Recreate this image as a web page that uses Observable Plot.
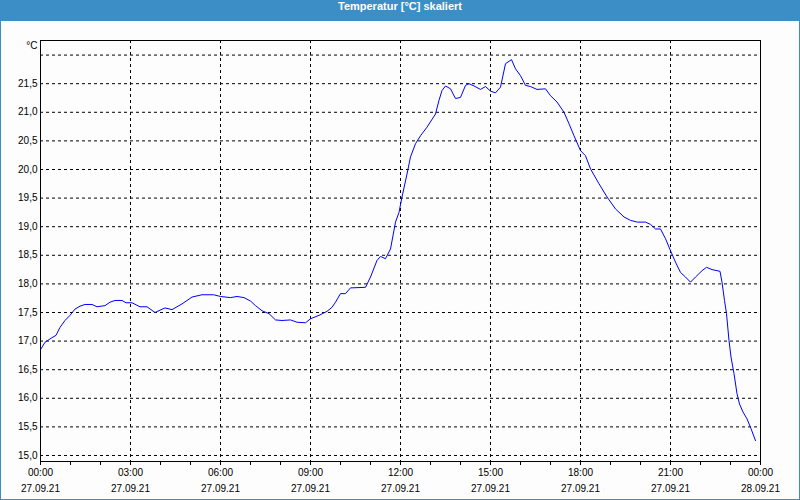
<!DOCTYPE html>
<html>
<head>
<meta charset="utf-8">
<script src="https://cdn.jsdelivr.net/npm/d3@7"></script>
<script src="https://cdn.jsdelivr.net/npm/@observablehq/plot@0.6"></script>
<style>
  html, body { margin: 0; padding: 0; background: #ffffff; }
  #wrap { position: relative; width: 800px; height: 500px; background: #fcfdfc; overflow: hidden; }
  #title { height: 21px; line-height: 20px; background: #3b8fc6; color: #ffffff; text-align: center;
           font: bold 11px "Liberation Sans", sans-serif; }
  #border { position: absolute; left: 0; top: 0; width: 800px; height: 500px; box-sizing: border-box;
            border: 1px solid #3b8fc6; border-top: none; pointer-events: none; }
  #chart svg { display: block; background: transparent; }
</style>
</head>
<body>
<div id="wrap">
  <div id="title">Temperatur [°C] skaliert</div>
  <div id="chart"></div>
  <div id="border"></div>
</div>
<script>
// Series: minutes since 27.09.21 00:00 and temperature in °C
const minutes = [0, 9, 23, 31, 39, 49, 59, 69, 79, 89, 103, 113, 129, 139, 149, 163, 171, 183, 199, 213,
  229, 249, 263, 283, 303, 323, 346, 360, 380, 393, 407, 420, 430, 443, 457, 470, 483, 500, 513, 530,
  540, 557, 573, 583, 590, 600, 610, 620, 650, 660, 673, 680, 690, 700, 710, 717, 723, 733, 740, 750,
  760, 773, 790, 797, 803, 810, 820, 830, 840, 850, 857, 867, 880, 890, 900, 910, 920, 930, 942, 950,
  960, 970, 980, 993, 1010, 1020, 1033, 1047, 1057, 1067, 1080, 1090, 1100, 1117, 1133, 1150, 1167, 1180, 1194, 1210,
  1220, 1230, 1240, 1250, 1260, 1270, 1280, 1290, 1300, 1310, 1323, 1332, 1343, 1359, 1363, 1368, 1372, 1377, 1381, 1387,
  1393, 1398, 1405, 1413, 1421, 1430];
const temps = [16.85, 16.98, 17.06, 17.10, 17.24, 17.36, 17.45, 17.56, 17.61, 17.64, 17.64, 17.60, 17.62, 17.68, 17.71, 17.71, 17.67, 17.67, 17.60, 17.60,
  17.50, 17.58, 17.55, 17.65, 17.77, 17.81, 17.81, 17.78, 17.76, 17.78, 17.76, 17.70, 17.62, 17.53, 17.48, 17.37, 17.36, 17.37, 17.33, 17.32,
  17.39, 17.45, 17.52, 17.59, 17.68, 17.83, 17.83, 17.93, 17.94, 18.12, 18.41, 18.48, 18.44, 18.61, 19.08, 19.25, 19.52, 19.92, 20.22, 20.45,
  20.59, 20.74, 20.97, 21.21, 21.38, 21.46, 21.41, 21.24, 21.26, 21.47, 21.50, 21.46, 21.40, 21.45, 21.37, 21.34, 21.44, 21.85, 21.92, 21.76,
  21.64, 21.47, 21.45, 21.40, 21.41, 21.29, 21.18, 21.00, 20.80, 20.59, 20.33, 20.24, 20.01, 19.75, 19.52, 19.31, 19.17, 19.11, 19.08, 19.08,
  19.04, 18.96, 18.96, 18.79, 18.58, 18.38, 18.20, 18.12, 18.03, 18.12, 18.23, 18.29, 18.25, 18.22, 18.03, 17.71, 17.48, 17.01, 16.72, 16.43,
  16.08, 15.90, 15.76, 15.64, 15.47, 15.26];

// Axis ticks
const xMajorHours = [0, 3, 6, 9, 12, 15, 18, 21, 24];
const xMinorHours = d3.range(0, 25);
const xTimeLabels = ["00:00", "03:00", "06:00", "09:00", "12:00", "15:00", "18:00", "21:00", "00:00"];
const xDateLabels = ["27.09.21", "27.09.21", "27.09.21", "27.09.21", "27.09.21", "27.09.21", "27.09.21", "27.09.21", "28.09.21"];
const yGridTicks = [15.0, 15.5, 16.0, 16.5, 17.0, 17.5, 18.0, 18.5, 19.0, 19.5, 20.0, 20.5, 21.0, 21.5, 22.0];
const yLabelTicks = [15.0, 15.5, 16.0, 16.5, 17.0, 17.5, 18.0, 18.5, 19.0, 19.5, 20.0, 20.5, 21.0, 21.5];
const yUnit = "°C";

const t0 = Date.UTC(2021, 8, 27, 0, 0);
const toDate = m => new Date(t0 + m * 60000);
const data = minutes.map((m, i) => ({time: toDate(m), temp: temps[i]}));
const majorDates = xMajorHours.map(h => toDate(h * 60));
const minorDates = xMinorHours.map(h => toDate(h * 60));
const majorIndex = new Map(majorDates.map((d, i) => [+d, i]));

const dash = "3,3";
const font = '"Liberation Sans", sans-serif';

const chart = Plot.plot({
  width: 800,
  height: 479,
  marginTop: 19,
  marginBottom: 39,
  marginLeft: 40,
  marginRight: 40,
  style: {fontFamily: font, fontSize: "10px", color: "#000", background: "transparent"},
  x: {type: "utc", domain: [toDate(0), toDate(1440)], label: null},
  y: {domain: [14.895, 22.255], label: null},
  marks: [
    Plot.gridY(yGridTicks, {stroke: "#000", strokeOpacity: 1, strokeDasharray: dash}),
    Plot.gridX(majorDates, {stroke: "#000", strokeOpacity: 1, strokeDasharray: dash}),
    Plot.axisX(minorDates, {tickSize: 4, tickFormat: () => "", stroke: "#000", label: null}),
    Plot.axisX(majorDates, {tickSize: 4, tickPadding: 3, stroke: "#000", fill: "#000", label: null,
      tickFormat: d => xTimeLabels[majorIndex.get(+d)]}),
    Plot.axisX(majorDates, {tickSize: 0, tickPadding: 23, fill: "#000", label: null,
      tickFormat: d => xDateLabels[majorIndex.get(+d)]}),
    Plot.axisY(yLabelTicks, {tickSize: 0, tickPadding: 3, fill: "#000", label: null,
      tickFormat: d => d.toFixed(1).replace(".", ",")}),
    Plot.text([yUnit], {frameAnchor: "top-left", textAnchor: "end", lineAnchor: "middle", dx: -3, dy: 5, fill: "#000"}),
    Plot.line(data, {x: "time", y: "temp", stroke: "#0000ff", strokeWidth: 1}),
    Plot.frame({stroke: "#000", strokeWidth: 1})
  ]
});
document.getElementById("chart").appendChild(chart);
</script>
</body>
</html>
